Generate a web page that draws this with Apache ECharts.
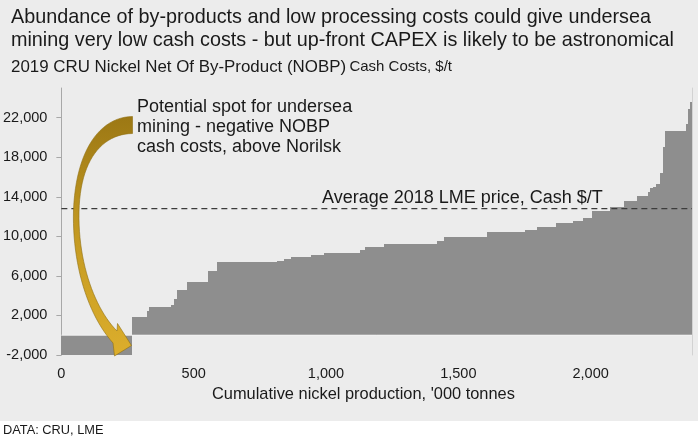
<!DOCTYPE html>
<html>
<head>
<meta charset="utf-8">
<script src="https://cdn.jsdelivr.net/npm/echarts@6/dist/echarts.min.js"></script>
<style>
  html, body { margin: 0; padding: 0; background: #fff; }
  #chart {
    width: 698px; height: 436px;
    background: linear-gradient(#ececec 0, #ececec 421px, #ffffff 421px);
  }
</style>
</head>
<body>
<div id="chart"></div>
<script>
// cost curve: cumulative production ('000 t) where each producer starts, and its NOBP cash cost ($/t)
const prodStart = [0, 266, 323, 332, 413, 426, 436, 476, 553, 589, 816, 840, 866, 942, 991,
  1130, 1149, 1218, 1420, 1445, 1608, 1753, 1797, 1870, 1935, 1972, 2006, 2074, 2127, 2174,
  2215, 2223, 2236, 2247, 2262, 2273, 2281, 2360, 2366, 2377];
const cashCost = [-2000, 1850, 2400, 2900, 3100, 3650, 4620, 5430, 6520, 7380, 7530, 7730, 7860, 8140, 8290,
  8620, 8970, 9230, 9530, 9910, 10430, 10670, 10950, 11320, 11580, 11880, 12570, 12970, 13580, 14050,
  14490, 14860, 14990, 15340, 16430, 19040, 20650, 21400, 22920, 23590];
const prodEnd = 2383;
const lmeAvg = 12800;
const yTicks = [-2000, 2000, 6000, 10000, 14000, 18000, 22000];
const xTicks = [0, 500, 1000, 1500, 2000];

const FONT = '"Liberation Sans", Arial, sans-serif';
const TXT = '#1a1a1a';

// [start, end, cost] per producer block
const blocks = prodStart.map((x, i) => [x, i < prodStart.length - 1 ? prodStart[i + 1] : prodEnd, cashCost[i]]);

const fmt = v => Number(v).toLocaleString('en-US');

// sample a cubic bezier into points (for the callout arrow outline)
function bez(p0, p1, p2, p3, n) {
  const pts = [];
  for (let i = 0; i <= n; i++) {
    const t = i / n, u = 1 - t;
    pts.push([
      u * u * u * p0[0] + 3 * u * u * t * p1[0] + 3 * u * t * t * p2[0] + t * t * t * p3[0],
      u * u * u * p0[1] + 3 * u * u * t * p1[1] + 3 * u * t * t * p2[1] + t * t * t * p3[1]
    ]);
  }
  return pts;
}
const arrowPts = [].concat(
  bez([132.5, 116.5], [100, 117], [76, 150], [73.5, 210], 24),
  bez([73.5, 210], [72, 265], [88, 315], [113, 343], 24),
  [[114.5, 356], [131.5, 345.5], [117.5, 323.5]],
  bez([117, 331], [96, 310], [78, 265], [79, 212], 24),
  bez([79, 212], [80, 160], [102, 134], [132.5, 133.5], 24)
);

// snap block edges to whole pixels so neighbouring blocks leave no seams
const renderBlock = (params, api) => {
  const p0 = api.coord([api.value(0), api.value(2)]);
  const p1 = api.coord([api.value(1), 0]);
  const x0 = Math.round(p0[0]), x1 = Math.round(p1[0]);
  const yTop = Math.round(Math.min(p0[1], p1[1]));
  const yBot = Math.round(Math.max(p0[1], p1[1]));
  return {
    type: 'rect',
    shape: { x: x0, y: yTop, width: Math.max(x1 - x0, 1), height: yBot - yTop },
    style: { fill: '#8e8e8e' }
  };
};

const chart = echarts.init(document.getElementById('chart'), null, { renderer: 'canvas' });

chart.setOption({
  animation: false,
  backgroundColor: 'transparent',
  grid: { left: 61, right: 6, top: 88, bottom: 81 },
  xAxis: {
    type: 'value',
    min: 0,
    max: prodEnd,
    axisLine: { show: false, onZero: false },
    axisTick: { show: false },
    splitLine: { show: false },
    axisLabel: {
      customValues: xTicks,
      formatter: fmt,
      color: TXT,
      fontFamily: FONT,
      fontSize: 14.5,
      margin: 11
    }
  },
  yAxis: [{
    type: 'value',
    min: -2000,
    max: 25000,
    axisLine: { show: true, lineStyle: { color: '#a8a8a8', width: 1 } },
    axisTick: { show: true, customValues: yTicks, length: 5, lineStyle: { color: '#a8a8a8' } },
    splitLine: { show: false },
    axisLabel: {
      customValues: yTicks,
      formatter: fmt,
      color: TXT,
      fontFamily: FONT,
      fontSize: 14.5,
      margin: 14
    }
  }, {
    type: 'value',
    position: 'right',
    min: -2000,
    max: 25000,
    axisLine: { show: true, lineStyle: { color: '#d2d2d2', width: 1 } },
    axisTick: { show: false },
    axisLabel: { show: false },
    splitLine: { show: false }
  }],
  series: [
    {
      type: 'custom',
      renderItem: renderBlock,
      data: blocks,
      encode: { x: [0, 1], y: 2 },
      silent: true
    },
    {
      // zero line
      type: 'line',
      data: [[0, 0], [prodEnd, 0]],
      symbol: 'none',
      silent: true,
      lineStyle: { color: '#f3f3f3', width: 1 }
    },
    {
      // average 2018 LME cash price
      type: 'line',
      data: [[0, lmeAvg], [prodEnd, lmeAvg]],
      symbol: 'none',
      silent: true,
      lineStyle: { color: '#3c3c3c', width: 1.2, type: [6, 4] }
    }
  ],
  graphic: [
    {
      type: 'text', x: 11, y: 18,
      style: { text: 'Abundance of by-products and low processing costs could give undersea',
        font: '19.8px ' + FONT, fill: TXT, textVerticalAlign: 'middle' }
    },
    {
      type: 'text', x: 11, y: 41,
      style: { text: 'mining very low cash costs - but up-front CAPEX is likely to be astronomical',
        font: '19.8px ' + FONT, fill: TXT, textVerticalAlign: 'middle' }
    },
    {
      type: 'text', x: 11, y: 67,
      style: {
        text: '{a|2019 CRU Nickel Net Of By-Product (NOBP)} {b|Cash Costs, $/t}',
        textVerticalAlign: 'middle',
        rich: {
          a: { fontSize: 16.9, fontFamily: FONT, fill: TXT },
          b: { fontSize: 15, fontFamily: FONT, fill: TXT }
        }
      }
    },
    {
      type: 'text', x: 137, y: 97, z: 10,
      style: { text: 'Potential spot for undersea\nmining - negative NOBP\ncash costs, above Norilsk',
        font: '18px ' + FONT, fill: TXT, lineHeight: 20, textVerticalAlign: 'top' }
    },
    {
      type: 'text', x: 322, y: 198, z: 10,
      style: { text: 'Average 2018 LME price, Cash $/T',
        font: '18px ' + FONT, fill: TXT, textVerticalAlign: 'middle' }
    },
    {
      type: 'text', x: 212, y: 394,
      style: { text: "Cumulative nickel production, '000 tonnes",
        font: '16.4px ' + FONT, fill: TXT, textVerticalAlign: 'middle' }
    },
    {
      type: 'text', x: 3, y: 430,
      style: { text: 'DATA: CRU, LME',
        font: '12.8px ' + FONT, fill: TXT, textVerticalAlign: 'middle' }
    },
    {
      // curved callout arrow
      type: 'polygon', z: 20,
      shape: { points: arrowPts },
      style: {
        fill: {
          type: 'linear', x: 0, y: 0, x2: 0, y2: 1,
          colorStops: [
            { offset: 0, color: '#9c7814' },
            { offset: 0.5, color: '#c49a22' },
            { offset: 1, color: '#dcae2c' }
          ]
        },
        stroke: '#8f6e10',
        lineWidth: 0.6
      }
    }
  ]
});
</script>
</body>
</html>
